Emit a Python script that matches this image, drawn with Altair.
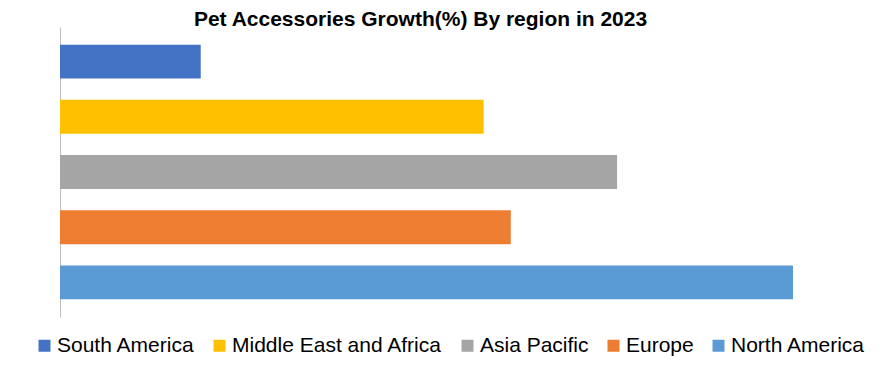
import altair as alt
import pandas as pd

regions = ["South America", "Middle East and Africa", "Asia Pacific", "Europe", "North America"]
growth = [1.92, 5.78, 7.60, 6.15, 10.0]
colors = ["#4472C4", "#FFC000", "#A5A5A5", "#ED7D31", "#5B9BD5"]

df = pd.DataFrame({"Region": regions, "Growth": growth})

chart = alt.Chart(df).mark_bar().encode(
    x=alt.X("Growth:Q", axis=None, scale=alt.Scale(domain=[0, 10], nice=False, zero=True)),
    y=alt.Y("Region:N", sort=regions,
            axis=alt.Axis(title=None, labels=False, ticks=False, domain=True,
                          domainColor="#BFBFBF", domainWidth=1, grid=False),
            scale=alt.Scale(paddingInner=0.385, paddingOuter=0.32)),
    color=alt.Color("Region:N", sort=regions,
                    scale=alt.Scale(domain=regions, range=colors),
                    legend=alt.Legend(title=None, orient="none", direction="horizontal",
                                      legendX=-26, legendY=308, symbolType="square",
                                      symbolSize=144, symbolStrokeWidth=0,
                                      labelFont="Liberation Sans", labelFontSize=21,
                                      labelColor="#000000", labelOffset=2,
                                      columnPadding=14, labelLimit=400)),
).properties(
    width=733, height=290,
    title=alt.Title("Pet Accessories Growth(%) By region in 2023",
                    font="Liberation Sans", fontSize=21, fontWeight="bold",
                    color="#000000", anchor="middle", dx=-6, offset=-3),
    autosize=alt.AutoSizeParams(type="none"),
    padding={"left": 52, "top": 19, "right": 90, "bottom": 45},
).configure_view(stroke=None)

chart.save("out.html", embed_options={"renderer": "svg", "actions": False})
